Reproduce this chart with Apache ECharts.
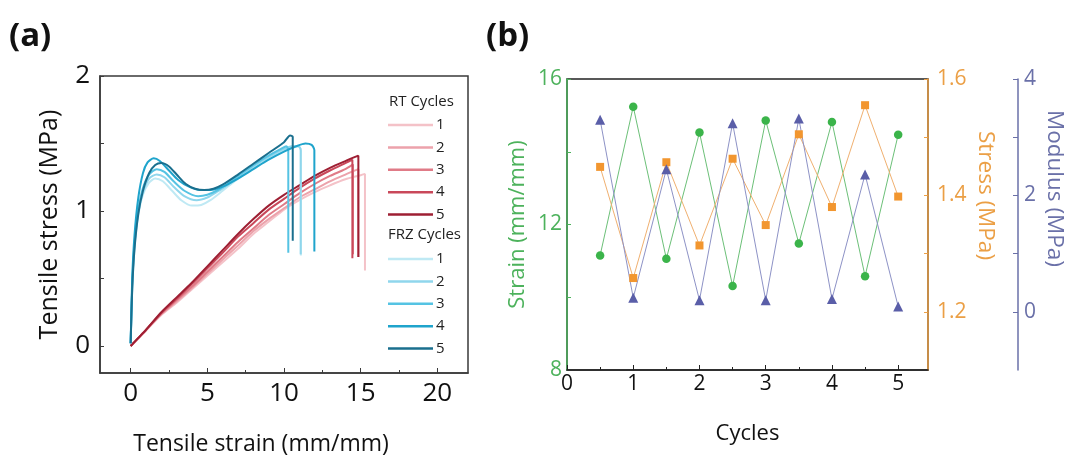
<!DOCTYPE html>
<html>
<head>
<meta charset="utf-8">
<script src="https://cdn.jsdelivr.net/npm/echarts@6/dist/echarts.min.js"></script>
<style>
  html, body { margin: 0; padding: 0; background: #fff; }
  #chart { width: 1067px; height: 456px; }
</style>
</head>
<body>
<div id="chart"></div>
<script>
// ---- (a) tensile curves: [strain (mm/mm), stress (MPa)] ----
const rtCycle1 = [[0,0],[0.5,0.055],[1,0.115],[2,0.23],[3,0.32],[4,0.42],[5,0.52],[6,0.62],[7,0.72],[8,0.83],[9,0.92],[10,1.01],[11,1.08],[12,1.14],[13,1.19],[14,1.235],[15,1.265],[15.28,1.275],[15.28,0.56]];
const rtCycle2 = [[0,0],[0.5,0.057],[1,0.117],[2,0.235],[3,0.33],[4,0.43],[5,0.535],[6,0.64],[7,0.745],[8,0.85],[9,0.94],[10,1.02],[11,1.1],[12,1.16],[13,1.22],[14,1.27],[14.85,1.31],[14.85,0.66]];
const rtCycle3 = [[0,0],[0.5,0.058],[1,0.118],[2,0.24],[3,0.34],[4,0.44],[5,0.55],[6,0.66],[7,0.77],[8,0.87],[9,0.97],[10,1.05],[11,1.13],[12,1.2],[13,1.26],[14,1.31],[14.5,1.345],[14.5,0.68]];
const rtCycle4 = [[0,0],[0.5,0.06],[1,0.12],[2,0.245],[3,0.35],[4,0.46],[5,0.575],[6,0.69],[7,0.81],[8,0.91],[9,1.01],[10,1.09],[11,1.17],[12,1.24],[13,1.3],[14,1.355],[14.46,1.38],[14.46,0.65]];
const rtCycle5 = [[0,0],[0.5,0.06],[1,0.12],[2,0.25],[3,0.36],[4,0.47],[5,0.59],[6,0.71],[7,0.83],[8,0.94],[9,1.04],[10,1.12],[11,1.19],[12,1.26],[13,1.32],[14,1.37],[14.85,1.41],[14.85,0.66]];

const frzCycle1 = [[0,0.02],[0.1,0.42],[0.25,0.72],[0.5,0.97],[0.8,1.12],[1.2,1.21],[1.6,1.24],[2.1,1.22],[2.7,1.15],[3.3,1.08],[4.0,1.04],[4.6,1.045],[5.2,1.08],[6.0,1.15],[7.0,1.24],[8.0,1.32],[9.0,1.39],[10.0,1.45],[10.8,1.48],[11.05,1.47],[11.1,1.44],[11.1,0.67]];
const frzCycle2 = [[0,0.02],[0.1,0.44],[0.25,0.74],[0.5,0.99],[0.8,1.14],[1.2,1.24],[1.7,1.27],[2.2,1.25],[2.8,1.18],[3.5,1.11],[4.3,1.08],[5.0,1.1],[5.6,1.14],[6.3,1.19],[7.0,1.25],[8.0,1.33],[9.0,1.4],[10.0,1.46],[10.5,1.48],[10.95,1.48],[11.09,1.45],[11.09,0.68]];
const frzCycle3 = [[0,0.02],[0.1,0.45],[0.25,0.76],[0.5,1.01],[0.8,1.17],[1.2,1.27],[1.7,1.31],[2.2,1.29],[2.8,1.22],[3.5,1.15],[4.4,1.11],[5.0,1.12],[5.6,1.15],[6.3,1.2],[7.0,1.26],[8.0,1.34],[9.0,1.41],[9.8,1.46],[10.15,1.48],[10.28,1.45],[10.28,0.69]];
const frzCycle4 = [[0,0.02],[0.1,0.5],[0.25,0.82],[0.5,1.1],[0.8,1.28],[1.1,1.36],[1.5,1.39],[1.9,1.37],[2.5,1.3],[3.1,1.23],[3.8,1.18],[4.5,1.155],[5.2,1.155],[6.0,1.18],[7.0,1.24],[8.0,1.31],[9.0,1.38],[10.0,1.44],[10.8,1.48],[11.4,1.5],[11.8,1.49],[11.98,1.45],[11.98,0.7]];
const frzCycle5 = [[0,0.02],[0.1,0.42],[0.25,0.72],[0.5,0.98],[0.8,1.15],[1.2,1.28],[1.6,1.34],[2.0,1.355],[2.5,1.33],[3.0,1.27],[3.6,1.2],[4.2,1.165],[4.8,1.155],[5.4,1.165],[6.0,1.195],[7.0,1.27],[8.0,1.35],[9.0,1.43],[10.0,1.51],[10.4,1.56],[10.57,1.55],[10.57,0.78]];

const rtColors  = ['#f4c2c8', '#eca2ab', '#e07b87', '#c9485a', '#9e1f33'];
const frzColors = ['#bfe9f4', '#8fd6ec', '#55c3e3', '#1fa4cc', '#1a6f8e'];

// ---- (b) per-cycle properties ----
const cycles   = [0.5, 1, 1.5, 2, 2.5, 3, 3.5, 4, 4.5, 5];
const strainMM = [11.15, 15.24, 11.06, 14.53, 10.31, 14.86, 11.48, 14.82, 10.58, 14.47];
const stressMPa = [1.449, 1.258, 1.457, 1.314, 1.463, 1.349, 1.505, 1.38, 1.555, 1.398];
const modulusMPa = [3.3, 0.24, 2.45, 0.2, 3.24, 0.2, 3.32, 0.22, 2.36, 0.09];

const xTicksA = [0, 5, 10, 15, 20];
const xMinorA = [2.5, 7.5, 12.5, 17.5];
const yTicksA = [0, 0.5, 1, 1.5, 2];
const yLabelsA = [0, 1, 2];
const xTicksB = [0, 1, 2, 3, 4, 5];
const xMinorB = [0.5, 1.5, 2.5, 3.5, 4.5];
const strainTicks = [10, 12, 14, 16];
const strainLabels = [8, 12, 16];
const stressTicks = [1.2, 1.3, 1.4, 1.5, 1.6];
const stressLabels = [1.2, 1.4, 1.6];
const modulusTicks = [0, 1, 2, 3, 4];
const modulusLabels = [0, 2, 4];

const FONT = '"Open Sans", "DejaVu Sans", sans-serif';
const GREEN = '#4db25c', ORANGE = '#eb9f45', SLATE = '#6a70a8';

const pair = (xs, ys) => xs.map((x, i) => [x, ys[i]]);

function curve(name, data, color) {
  return {
    name, type: 'line', xAxisIndex: 0, yAxisIndex: 0, data,
    showSymbol: false, smooth: 0.25, animation: false,
    lineStyle: { width: 2, color }, itemStyle: { color },
    emphasis: { disabled: true }
  };
}

const rtSets = [rtCycle1, rtCycle2, rtCycle3, rtCycle4, rtCycle5];
const frzSets = [frzCycle1, frzCycle2, frzCycle3, frzCycle4, frzCycle5];
const seriesA = [];
rtSets.forEach((d, i) => seriesA.push(curve('RT ' + (i + 1), d, rtColors[i])));
frzSets.forEach((d, i) => seriesA.push(curve('FRZ ' + (i + 1), d, frzColors[i])));

function legendBlock(prefix, top) {
  return {
    orient: 'vertical', left: 388, top, padding: 0,
    data: [1, 2, 3, 4, 5].map(n => prefix + ' ' + n),
    icon: 'rect', itemWidth: 45, itemHeight: 2.5, itemGap: 4.4,
    formatter: n => n.split(' ')[1],
    selectedMode: false,
    textStyle: { fontFamily: FONT, fontSize: 15, color: '#222', lineHeight: 18, padding: [0, 0, 0, -2] }
  };
}

const chart = echarts.init(document.getElementById('chart'), null, { renderer: 'canvas' });
chart.setOption({
  backgroundColor: '#fff',
  animation: false,
  textStyle: { fontFamily: FONT },
  grid: [
    { left: 100, top: 76, width: 368, height: 297, outerBoundsMode: 'none', containLabel: false,
      show: true, borderColor: '#3a3a3a', borderWidth: 1.5 },
    { left: 567, top: 79, width: 361, height: 291, outerBoundsMode: 'none', containLabel: false,
      show: true, borderColor: '#222', borderWidth: 1.5 }
  ],
  legend: [legendBlock('RT', 116), legendBlock('FRZ', 250)],
  graphic: [
    { type: 'text', left: 9, top: 20, style: { text: '(a)', font: 'bold 33px ' + FONT, fill: '#111' } },
    { type: 'text', left: 486, top: 20, style: { text: '(b)', font: 'bold 33px ' + FONT, fill: '#111' } },
    { type: 'text', left: 389, top: 94, style: { text: 'RT Cycles', font: '15px ' + FONT, fill: '#222' } },
    { type: 'text', left: 388, top: 227, style: { text: 'FRZ Cycles', font: '15px ' + FONT, fill: '#222' } }
  ],
  xAxis: [
    {
      gridIndex: 0, type: 'value', position: 'bottom', min: -2, max: 22, interval: 2,
      name: 'Tensile strain (mm/mm)', nameLocation: 'middle', nameGap: 60,
      nameTextStyle: { fontSize: 23, color: '#111', padding: [0, 46, 0, 0] },
      axisLine: { onZero: false, lineStyle: { color: '#3a3a3a', width: 1.5 } },
      axisTick: { inside: true, length: 5, customValues: xTicksA, lineStyle: { color: '#3a3a3a' } },
      axisLabel: { customValues: xTicksA, fontSize: 26, color: '#111', margin: 8 },
      splitLine: { show: false }
    },
    {
      gridIndex: 0, type: 'value', position: 'bottom', min: -2, max: 22, interval: 2,
      axisLine: { show: false, onZero: false },
      axisTick: { inside: true, length: 3, customValues: xMinorA, lineStyle: { color: '#3a3a3a' } },
      axisLabel: { show: false }, splitLine: { show: false }
    },
    {
      gridIndex: 1, type: 'value', position: 'bottom', min: 0, max: 5.45, interval: 0.05,
      name: 'Cycles', nameLocation: 'middle', nameGap: 53,
      nameTextStyle: { fontSize: 22, color: '#111' },
      axisLine: { onZero: false, lineStyle: { color: '#222', width: 1.5 } },
      axisTick: { inside: true, length: 5, customValues: xTicksB, lineStyle: { color: '#222' } },
      axisLabel: { customValues: xTicksB, fontSize: 21, color: '#111', margin: 4 },
      splitLine: { show: false }
    },
    {
      gridIndex: 1, type: 'value', position: 'bottom', min: 0, max: 5.45, interval: 0.05,
      axisLine: { show: false, onZero: false },
      axisTick: { inside: true, length: 3, customValues: xMinorB, lineStyle: { color: '#222' } },
      axisLabel: { show: false }, splitLine: { show: false }
    }
  ],
  yAxis: [
    {
      gridIndex: 0, type: 'value', min: -0.2, max: 2, interval: 0.2,
      name: 'Tensile stress (MPa)', nameLocation: 'middle', nameGap: 38,
      nameTextStyle: { fontSize: 25, color: '#111' },
      axisLine: { show: true, onZero: false, lineStyle: { color: '#3a3a3a', width: 1.5 } },
      axisTick: { show: true, inside: true, length: 4, customValues: yTicksA, lineStyle: { color: '#3a3a3a' } },
      axisLabel: { customValues: yLabelsA, fontSize: 26, color: '#111', margin: 10 },
      splitLine: { show: false }
    },
    {
      gridIndex: 1, type: 'value', position: 'left', min: 8, max: 16, interval: 2,
      name: 'Strain (mm/mm)', nameLocation: 'middle', nameGap: 38,
      nameTextStyle: { fontSize: 22, color: GREEN },
      axisLine: { show: true, onZero: false, lineStyle: { color: GREEN, width: 1.5 } },
      axisTick: { show: true, inside: true, length: 4, customValues: strainTicks, lineStyle: { color: GREEN } },
      axisLabel: { customValues: strainLabels, fontSize: 21, color: GREEN, margin: 5 },
      splitLine: { show: false }
    },
    {
      gridIndex: 1, type: 'value', position: 'right', min: 1.1, max: 1.6, interval: 0.1,
      name: 'Stress (MPa)', nameLocation: 'middle', nameGap: 46, nameRotate: -90,
      nameTextStyle: { fontSize: 22.5, color: ORANGE, padding: [0, 58, 0, 0] },
      axisLine: { show: true, onZero: false, lineStyle: { color: ORANGE, width: 1.5 } },
      axisTick: { show: true, inside: true, length: 4, customValues: stressTicks, lineStyle: { color: ORANGE } },
      axisLabel: { customValues: stressLabels, fontSize: 21, color: ORANGE, margin: 9, formatter: v => v.toFixed(1) },
      splitLine: { show: false }
    },
    {
      gridIndex: 1, type: 'value', position: 'right', offset: 90, min: -1, max: 4, interval: 1,
      name: 'Modulus (MPa)', nameLocation: 'middle', nameGap: 25, nameRotate: -90,
      nameTextStyle: { fontSize: 22.5, color: SLATE, padding: [0, 72, 0, 0] },
      axisLine: { show: true, onZero: false, lineStyle: { color: SLATE, width: 1.5 } },
      axisTick: { show: true, inside: true, length: 5, customValues: modulusTicks, lineStyle: { color: SLATE } },
      axisLabel: { customValues: modulusLabels, fontSize: 21, color: SLATE, margin: 6 },
      splitLine: { show: false }
    }
  ],
  series: seriesA.concat([
    {
      name: 'Strain', type: 'line', xAxisIndex: 2, yAxisIndex: 1,
      data: pair(cycles, strainMM), symbol: 'circle', symbolSize: 8.5,
      lineStyle: { width: 1, color: '#6cc078' }, itemStyle: { color: '#3bb44a' }
    },
    {
      name: 'Stress', type: 'line', xAxisIndex: 2, yAxisIndex: 2,
      data: pair(cycles, stressMPa), symbol: 'rect', symbolSize: 8,
      lineStyle: { width: 1, color: '#f0b070' }, itemStyle: { color: '#f2962f' }
    },
    {
      name: 'Modulus', type: 'line', xAxisIndex: 2, yAxisIndex: 3,
      data: pair(cycles, modulusMPa), symbol: 'triangle', symbolSize: 10,
      lineStyle: { width: 1, color: '#8d92c6' }, itemStyle: { color: '#5a5ea8' }
    }
  ])
});
</script>
</body>
</html>
